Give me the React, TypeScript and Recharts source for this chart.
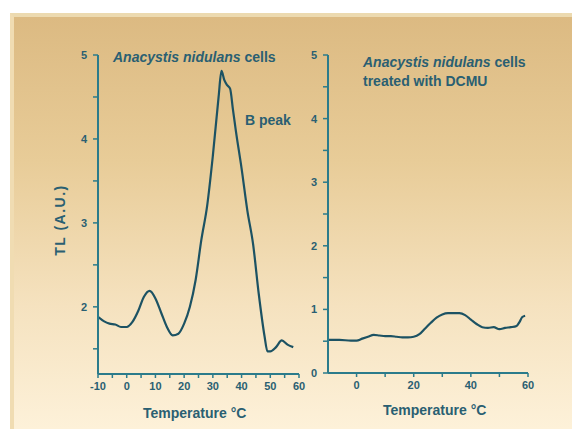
import React from "react";
import { LineChart, Line, XAxis, YAxis } from "recharts";

// left panel: untreated cells
const leftTemp = [-10, -8, -6, -4, -2, 0, 2, 4, 6, 8, 10, 12, 14, 16, 18, 20, 22, 24, 26, 28, 30, 32, 33, 34, 35, 36, 37, 38, 40, 42, 44, 46, 48, 49, 50, 52, 54, 56, 58];
const leftTL = [1.88, 1.83, 1.8, 1.79, 1.76, 1.76, 1.82, 1.95, 2.12, 2.19, 2.1, 1.93, 1.76, 1.66, 1.68, 1.8, 2.0, 2.32, 2.8, 3.2, 3.8, 4.5, 4.81, 4.7, 4.64, 4.6, 4.35, 4.1, 3.65, 3.15, 2.75, 2.15, 1.65, 1.47, 1.47, 1.52, 1.6, 1.55, 1.52];

// right panel: DCMU treated
const rightTemp = [-10, -6, -2, 0, 2, 4, 6, 8, 10, 12, 14, 16, 18, 20, 22, 24, 26, 28, 30, 32, 34, 36, 38, 40, 42, 44, 46, 48, 50, 52, 54, 56, 57, 58, 59];
const rightTL = [0.52, 0.52, 0.51, 0.51, 0.54, 0.57, 0.6, 0.59, 0.58, 0.58, 0.57, 0.56, 0.56, 0.57, 0.61, 0.7, 0.79, 0.87, 0.92, 0.94, 0.94, 0.94, 0.91, 0.84, 0.77, 0.72, 0.71, 0.72, 0.69, 0.71, 0.72, 0.74, 0.8, 0.88, 0.9];

const leftXTicks = [-10, -5, 0, 5, 10, 15, 20, 25, 30, 35, 40, 45, 50, 55, 60];
const leftYTicks = [1.5, 2, 2.5, 3, 3.5, 4, 4.5, 5];
const rightXTicks = [0, 10, 20, 30, 40, 50, 60];
const rightYTicks = [0, 0.5, 1, 1.5, 2, 2.5, 3, 3.5, 4, 4.5, 5];

const leftData = leftTemp.map((t, i) => ({ t, v: leftTL[i] }));
const rightData = rightTemp.map((t, i) => ({ t, v: rightTL[i] }));

const font = '"Liberation Sans", Arial, sans-serif';
const lineColor = "#1c5263";
const axisColor = "#2b7b8b";
const textColor = "#2a5f72";
const tickStyle = { fill: textColor, fontSize: 11, fontWeight: "bold", fontFamily: font };

const labelStyle: React.CSSProperties = {
  position: "absolute",
  whiteSpace: "nowrap",
  fontFamily: font,
  fontWeight: "bold",
  fontSize: 14,
  lineHeight: "16px",
  color: textColor,
};

export default function App() {
  return (
    <div style={{ position: "relative", width: 572, height: 429, background: "#fff", overflow: "hidden" }}>
      <style>{"body{margin:0}"}</style>
      <div
        style={{
          position: "absolute",
          left: 10,
          top: 13,
          width: 562,
          height: 416,
          background: "linear-gradient(to bottom, #dcba82 0%, #e8cc98 35%, #f5e2bf 70%, #fdf1d9 100%)",
          borderTop: "4px solid #ecdab0",
          borderLeft: "4px solid #f0dcb2",
          boxSizing: "border-box",
        }}
      />

      <div style={{ position: "absolute", left: 0, top: 0 }}>
        <LineChart width={310} height={429} data={leftData} margin={{ top: 55, right: 11, bottom: 25, left: 68 }}>
          <XAxis
            dataKey="t"
            type="number"
            domain={[-10, 60]}
            ticks={leftXTicks}
            tickFormatter={(v) => (v % 10 === 0 ? String(v) : "")}
            height={30}
            tickSize={4}
            tickMargin={4}
            axisLine={{ stroke: axisColor, strokeWidth: 2 }}
            tickLine={{ stroke: axisColor, strokeWidth: 1.5 }}
            tick={tickStyle}
            allowDataOverflow
          />
          <YAxis
            type="number"
            domain={[1.2, 5]}
            ticks={leftYTicks}
            tickFormatter={(v) => (v % 1 === 0 ? String(v) : "")}
            width={30}
            tickSize={5}
            tickMargin={6}
            axisLine={{ stroke: axisColor, strokeWidth: 2 }}
            tickLine={{ stroke: axisColor, strokeWidth: 1.5 }}
            tick={tickStyle}
            allowDataOverflow
          />
          <Line type="monotone" dataKey="v" stroke={lineColor} strokeWidth={2.2} dot={false} isAnimationActive={false} />
        </LineChart>
      </div>

      <div style={{ position: "absolute", left: 250, top: 0 }}>
        <LineChart width={300} height={429} data={rightData} margin={{ top: 55, right: 22, bottom: 26, left: 48 }}>
          <XAxis
            dataKey="t"
            type="number"
            domain={[-10, 60]}
            ticks={rightXTicks}
            tickFormatter={(v) => (v % 20 === 0 ? String(v) : "")}
            height={30}
            tickSize={4}
            tickMargin={4}
            axisLine={{ stroke: axisColor, strokeWidth: 2 }}
            tickLine={{ stroke: axisColor, strokeWidth: 1.5 }}
            tick={tickStyle}
            allowDataOverflow
          />
          <YAxis
            type="number"
            domain={[0, 5]}
            ticks={rightYTicks}
            tickFormatter={(v) => (v % 1 === 0 ? String(v) : "")}
            width={30}
            tickSize={5}
            tickMargin={6}
            axisLine={{ stroke: axisColor, strokeWidth: 2 }}
            tickLine={{ stroke: axisColor, strokeWidth: 1.5 }}
            tick={tickStyle}
            allowDataOverflow
          />
          <Line type="monotone" dataKey="v" stroke={lineColor} strokeWidth={2.2} dot={false} isAnimationActive={false} />
        </LineChart>
      </div>

      <div style={{ ...labelStyle, left: 113, top: 49 }}>
        <i>Anacystis nidulans</i> cells
      </div>
      <div style={{ ...labelStyle, left: 245, top: 112 }}>B peak</div>
      <div style={{ ...labelStyle, left: 363, top: 53, lineHeight: "19px" }}>
        <i>Anacystis nidulans</i> cells
        <br />
        treated with DCMU
      </div>
      <div style={{ ...labelStyle, left: 143, top: 405 }}>Temperature °C</div>
      <div style={{ ...labelStyle, left: 383, top: 402 }}>Temperature °C</div>
      <div
        style={{
          ...labelStyle,
          left: 60,
          top: 220,
          letterSpacing: 1.5,
          transform: "translate(-50%, -50%) rotate(-90deg)",
        }}
      >
        TL (A.U.)
      </div>
    </div>
  );
}
